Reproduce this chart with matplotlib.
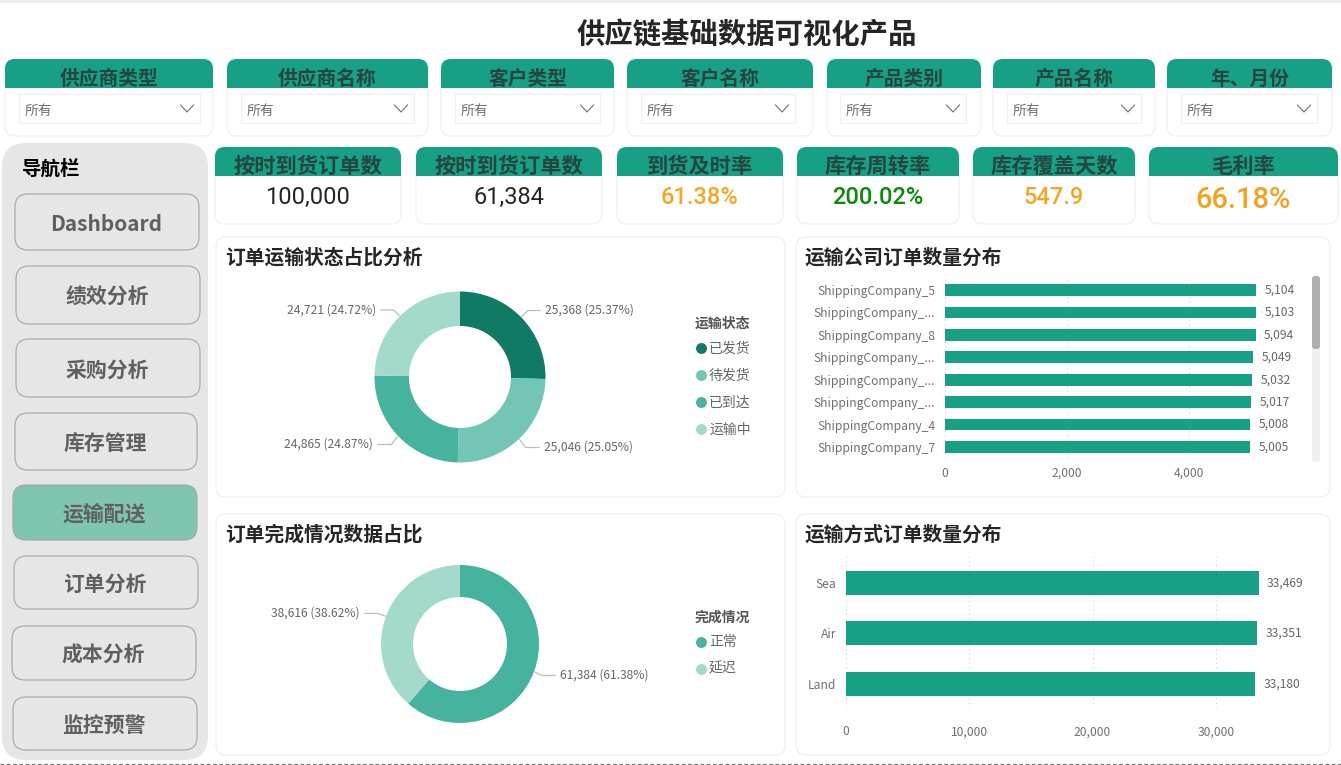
import numpy as np
import matplotlib
matplotlib.use("Agg")
import matplotlib.pyplot as plt
from matplotlib.patches import FancyBboxPatch, Rectangle

plt.rcParams['font.family'] = ['Noto Sans CJK SC', 'DejaVu Sans']

# ---------- data ----------
page_title = "供应链基础数据可视化产品"
slicer_titles = ["供应商类型", "供应商名称", "客户类型", "客户名称", "产品类别", "产品名称", "年、月份"]
slicer_value = "所有"
kpi_titles = ["按时到货订单数", "按时到货订单数", "到货及时率", "库存周转率", "库存覆盖天数", "毛利率"]
kpi_values = ["100,000", "61,384", "61.38%", "200.02%", "547.9", "66.18%"]
kpi_colors = ["#252525", "#252525", "#F5A623", "#0B8A0B", "#F5A623", "#F5A11C"]
nav_title = "导航栏"
nav_items = ["Dashboard", "绩效分析", "采购分析", "库存管理", "运输配送", "订单分析", "成本分析", "监控预警"]
nav_active = "运输配送"

status_title = "订单运输状态占比分析"
status_legend = "运输状态"
status_names = ["已发货", "待发货", "已到达", "运输中"]
status_values = [25368, 25046, 24865, 24721]
status_colors = ["#117A65", "#73C6B6", "#45B39D", "#A3DACB"]

done_title = "订单完成情况数据占比"
done_legend = "完成情况"
done_names = ["正常", "延迟"]
done_values = [61384, 38616]
done_colors = ["#45B39D", "#A3DACB"]

carrier_title = "运输公司订单数量分布"
carrier_names = ["ShippingCompany_5", "ShippingCompany_...", "ShippingCompany_8", "ShippingCompany_...",
                 "ShippingCompany_...", "ShippingCompany_...", "ShippingCompany_4", "ShippingCompany_7"]
carrier_values = [5104, 5103, 5094, 5049, 5032, 5017, 5008, 5005]
carrier_ticks = [0, 2000, 4000]

mode_title = "运输方式订单数量分布"
mode_names = ["Sea", "Air", "Land"]
mode_values = [33469, 33351, 33180]
mode_ticks = [0, 10000, 20000, 30000]

GREEN = "#17A085"
W, H = 1341, 765

fig = plt.figure(figsize=(W / 100, H / 100), dpi=100, facecolor="white")
bg = fig.add_axes([0, 0, 1, 1])
bg.set_xlim(0, W)
bg.set_ylim(H, 0)
bg.axis("off")


def axes_px(x0, y0, x1, y1):
    ax = fig.add_axes([x0 / W, 1 - y1 / H, (x1 - x0) / W, (y1 - y0) / H])
    ax.patch.set_alpha(0)
    return ax


def rbox(x0, y0, x1, y1, r=10, fc="white", ec="#F0F0F0", lw=0.9, z=1):
    p = FancyBboxPatch((x0, y0), x1 - x0, y1 - y0, boxstyle=f"round,pad=0,rounding_size={r}",
                       fc=fc, ec=ec, lw=lw, zorder=z)
    bg.add_patch(p)
    return p


def header_card(x0, y0, x1, y1, hb, title, fs):
    rbox(x0, y0, x1, y1, r=10)
    head = rbox(x0, y0, x1, y1, r=10, fc=GREEN, ec="none", z=2)
    clip = Rectangle((x0, y0), x1 - x0, hb - y0, transform=bg.transData)
    head.set_clip_path(clip)
    t = bg.text((x0 + x1) / 2, hb - 3.5, title, ha="center", va="baseline", fontsize=fs,
                fontweight="bold", color="#25463F", zorder=3)
    t.set_clip_path(clip)


# page frame
bg.add_patch(Rectangle((0, 0), W, 3, fc="#ECECEC", ec="none"))
bg.plot([0, W], [764, 764], color="#777777", lw=0.9, ls=(0, (3, 2)))
bg.text(747, 36, page_title, ha="center", va="center", fontsize=20.4, fontweight="bold", color="#252525")

# slicers
slicer_boxes = [(5, 213, 19, 200), (227, 428, 241, 414), (441, 614, 455, 600), (627, 813, 641, 795),
                (827, 981, 840, 966), (993, 1155, 1007, 1141), (1167, 1332, 1181, 1317)]
for name, (x0, x1, ix0, ix1) in zip(slicer_titles, slicer_boxes):
    header_card(x0, 59, x1, 136, 88, name, 14.2)
    bg.add_patch(Rectangle((ix0, 94), ix1 - ix0, 29, fc="white", ec="#F0F0F0", lw=0.9, zorder=3))
    bg.text(ix0 + 6, 111, slicer_value, ha="left", va="center", fontsize=10, color="#707070", zorder=4)
    cx = ix1 - 13
    bg.plot([cx - 6.5, cx, cx + 6.5], [105, 112, 105], color="#707070", lw=0.8, zorder=4)

# KPI cards
kpi_boxes = [(215, 401), (416, 602), (617, 783), (797, 959), (973, 1135), (1149, 1338)]
for i, (name, val, col, (x0, x1)) in enumerate(zip(kpi_titles, kpi_values, kpi_colors, kpi_boxes)):
    header_card(x0, 147, x1, 224, 176, name, 15.3)
    last = i == len(kpi_titles) - 1
    bg.text((x0 + x1) / 2, 199.5 if last else 197, val, ha="center", va="center", family="Roboto",
            fontsize=21 if last else 17, fontweight="medium" if i > 1 else "regular", color=col, zorder=4)

# navigation
rbox(2, 143, 208, 760, r=24, fc="#E6E6E6", ec="none")
bg.text(22, 169, nav_title, ha="left", va="center", fontsize=14, fontweight="bold", color="black", zorder=3)
nav_boxes = [(15, 194, 199, 250), (16, 266, 200, 324), (16, 339, 200, 397), (15, 413, 197, 470),
             (13, 485, 197, 540), (14, 556, 198, 609), (12, 626, 196, 680), (13, 697, 197, 750)]
for name, (x0, y0, x1, y1) in zip(nav_items, nav_boxes):
    active = name == nav_active
    rbox(x0, y0, x1, y1, r=13, fc="#7FC5B1" if active else "#E6E6E6", ec="#A5A5A5", lw=0.8, z=2)
    bg.text((x0 + x1) / 2 - 1, (y0 + y1) / 2 + 2, name, ha="center", va="center", fontsize=15,
            fontweight="bold", color="#606060", zorder=3)

# panels
panels = [(216, 237, 785, 497, status_title), (796, 237, 1330, 497, carrier_title),
          (216, 514, 785, 755, done_title), (796, 514, 1330, 755, mode_title)]
for x0, y0, x1, y1, title in panels:
    rbox(x0, y0, x1, y1, r=10)
    bg.text(x0 + 9, y0 + 21, title, ha="left", va="center", fontsize=14.2, fontweight="bold",
            color="#252525", zorder=3)


def donut(cx, cy, R, r, values, colors, label_pos, names, legend_title, lx, ly):
    ax = axes_px(cx - R, cy - R, cx + R, cy + R)
    ax.pie(values, colors=colors, startangle=90, counterclock=False, radius=1,
           wedgeprops=dict(width=(R - r) / R, linewidth=0))
    ax.set_xlim(-1, 1)
    ax.set_ylim(-1, 1)
    total = sum(values)
    cum = 0
    for v, (tx, ty) in zip(values, label_pos):
        th = 2 * np.pi * (cum + v / 2) / total
        cum += v
        dx, dy = np.sin(th), -np.cos(th)
        right = dx > 0
        ex, ey = cx + dx * R * 1.11, cy + dy * R * 1.11
        bg.plot([cx + dx * R * 1.01, ex, tx - 5 if right else tx + 5], [cy + dy * R * 1.01, ty, ty],
                color="#BDBDBD", lw=0.9, zorder=3)
        bg.text(tx, ty, f"{v:,} ({v / total:.2%})", ha="left" if right else "right", va="center",
                fontsize=8.7, color="#666666", zorder=4)
    bg.text(lx, ly, legend_title, ha="left", va="center", fontsize=10, fontweight="bold",
            color="#555555", zorder=4)
    for i, (n, c) in enumerate(zip(names, colors)):
        y = ly + 24 + 27 * i
        bg.scatter([lx + 6], [y], s=62, color=c, linewidths=0, zorder=4)
        bg.text(lx + 14, y + 0.5, n, ha="left", va="center", fontsize=10, color="#666666", zorder=4)


donut(460, 377, 85.5, 51, status_values, status_colors,
      [(545, 310.5), (544, 447.5), (373, 444.5), (376, 310)], status_names, status_legend, 695, 324)
donut(460, 644, 79, 47, done_values, done_colors,
      [(560, 675.5), (360, 613.5)], done_names, done_legend, 695, 617.5)


def hbars(x0, y0, x1, y1, values, names, xlim, ylim, ticks, bar_h, tick_pad, lab_fs):
    ax = axes_px(x0, y0, x1, y1)
    pos = np.arange(len(values))
    ax.barh(pos, values, height=bar_h, color=GREEN, zorder=3)
    ax.set_xlim(*xlim)
    ax.set_ylim(*ylim)
    ax.set_yticks(pos, names)
    ax.set_xticks(ticks, [f"{t:,}" for t in ticks])
    ax.tick_params(axis="both", length=0, labelsize=lab_fs, labelcolor="#707070")
    ax.tick_params(axis="x", pad=tick_pad)
    ax.tick_params(axis="y", pad=7)
    ax.grid(axis="x", color="#CFCFCF", lw=0.8, ls=(0, (1, 3)), zorder=0)
    ax.set_axisbelow(True)
    for s in ax.spines.values():
        s.set_visible(False)
    for p, v in zip(pos, values):
        ax.annotate(f"{v:,}", (v, p), xytext=(6, 0), textcoords="offset points", ha="left", va="center",
                    fontsize=lab_fs, color="#666666", annotation_clip=False)
    return ax


hbars(945, 277, 1305, 458, carrier_values, carrier_names, (0, 360 / 0.061), (7.49, -0.58),
      carrier_ticks, 0.52, 6.5, 8.7)
hbars(846, 556, 1310, 708, mode_values, mode_names, (0, 464 / 0.01233), (2.475, -0.53),
      mode_ticks, 0.475, 12.5, 8.7)

# scrollbar of the carrier list
rbox(1312, 276, 1320, 462, r=3, fc="#F0F0F0", ec="none", z=2)
rbox(1312, 276, 1320, 349, r=3, fc="#B0B0B0", ec="none", z=3)

fig.savefig("out.png", dpi=100, facecolor="white")
